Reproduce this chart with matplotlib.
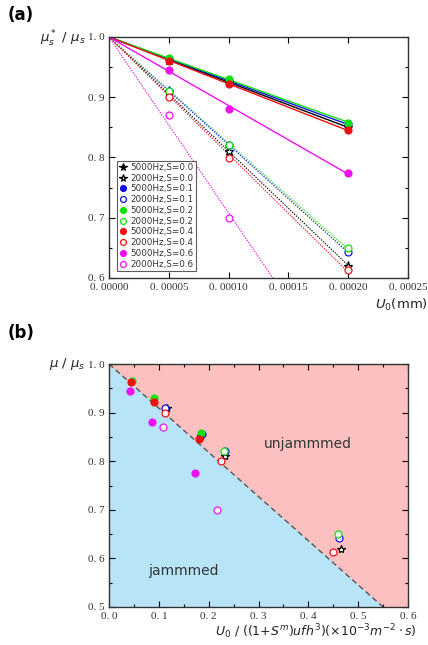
import numpy as np
import matplotlib
matplotlib.use("Agg")
import matplotlib.pyplot as plt
from matplotlib.ticker import MultipleLocator, FuncFormatter

# ---------------- data ----------------
U0 = [0.0, 0.00005, 0.00010, 0.00020]
labels = ["5000Hz,S=0.0", "2000Hz,S=0.0", "5000Hz,S=0.1", "2000Hz,S=0.1",
          "5000Hz,S=0.2", "2000Hz,S=0.2", "5000Hz,S=0.4", "2000Hz,S=0.4",
          "5000Hz,S=0.6", "2000Hz,S=0.6"]
colors = ["black", "black", "#1010e0", "#1010e0", "#10e010", "#10e010",
          "#ee1010", "#ee1010", "#ee10ee", "#ee10ee"]
markers = ["*", "*", "o", "o", "o", "o", "o", "o", "o", "o"]
filled = [True, False, True, False, True, False, True, False, True, False]

mu_a = [
    [1.0, 0.962, 0.925, 0.850],
    [1.0, 0.910, 0.810, 0.620],
    [1.0, 0.963, 0.927, 0.855],
    [1.0, 0.910, 0.820, 0.643],
    [1.0, 0.965, 0.930, 0.858],
    [1.0, 0.910, 0.820, 0.650],
    [1.0, 0.960, 0.922, 0.845],
    [1.0, 0.900, 0.800, 0.613],
    [1.0, 0.945, 0.880, 0.775],
    [1.0, 0.870, 0.700, None],
]

# panel (b) scaled abscissa values and ratios
xb = [
    [0.184],
    [0.116, 0.232, 0.465],
    [0.186],
    [0.112, 0.232, 0.462],
    [0.046, 0.091, 0.184],
    [0.230, 0.460],
    [0.045, 0.090, 0.180],
    [0.112, 0.225, 0.449],
    [0.043, 0.086, 0.173],
    [0.108, 0.216],
]
yb = [
    [0.852],
    [0.910, 0.810, 0.620],
    [0.855],
    [0.910, 0.822, 0.643],
    [0.965, 0.930, 0.858],
    [0.820, 0.650],
    [0.962, 0.922, 0.845],
    [0.900, 0.800, 0.613],
    [0.945, 0.880, 0.775],
    [0.870, 0.700],
]
boundary_x = [0.0, 0.55]
boundary_y = [1.0, 0.5]

# ---------------- figure ----------------
W, H = 428, 645
fig = plt.figure(figsize=(W / 100, H / 100), dpi=100)
serif = ["Liberation Serif", "DejaVu Serif"]

def ax_rect(l, t, r, b):
    return [l / W, 1 - b / H, (r - l) / W, (b - t) / H]

def style(ax):
    ax.tick_params(which="both", direction="in", top=True, right=True,
                   labelsize=8, width=0.8)
    ax.tick_params(which="major", length=4)
    ax.tick_params(which="minor", length=2.5)
    for lab in ax.get_xticklabels() + ax.get_yticklabels():
        lab.set_fontfamily(serif)
        lab.set_color("#333333")
    for s in ax.spines.values():
        s.set_linewidth(1.0)
        s.set_color("#333333")

def spaced(fmt):
    return FuncFormatter(lambda v, p: (fmt % v).replace(".", ". "))

# ---- panel (a) ----
axa = fig.add_axes(ax_rect(109, 37, 408, 278))
order = [0, 1, 2, 3, 4, 5, 6, 7, 8, 9]
xfit = np.array([0.0, 0.00020])
handles = []
for i in order:
    ys = mu_a[i]
    px = np.array([x for x, y in zip(U0, ys) if y is not None])
    py = np.array([y for y in ys if y is not None])
    k = np.sum(px * (1 - py)) / np.sum(px ** 2)
    ls = "-" if filled[i] else (0, (1.2, 1.2))
    lw = 1.0 if filled[i] else 0.8
    axa.plot(xfit, 1 - k * xfit, ls=ls, color=colors[i], lw=lw, zorder=2)
    ms = 6.5 if markers[i] == "*" else 5
    h, = axa.plot(px[1:], py[1:], ls="none", marker=markers[i], ms=ms,
                  mfc=colors[i] if filled[i] else "white",
                  mec=colors[i], mew=0.9, zorder=3, label=labels[i])
    handles.append(h)
axa.set_xlim(0, 0.00025)
axa.set_ylim(0.6, 1.0)
axa.xaxis.set_major_locator(MultipleLocator(0.00005))
axa.yaxis.set_major_locator(MultipleLocator(0.1))
axa.yaxis.set_minor_locator(MultipleLocator(0.05))
axa.xaxis.set_major_formatter(spaced("%.5f"))
axa.yaxis.set_major_formatter(spaced("%.1f"))
style(axa)
leg = axa.legend(handles=handles, loc="lower left", bbox_to_anchor=(0.027, 0.03),
                 fontsize=6.3, frameon=True, fancybox=False, handlelength=0.8,
                 handletextpad=0.5, borderpad=0.25, labelspacing=0.2,
                 borderaxespad=0.0, markerscale=0.85)
leg.get_frame().set_edgecolor("#333333")
leg.get_frame().set_linewidth(0.8)
for t in leg.get_texts():
    t.set_color("#333333")

fig.text(86 / W, 1 - 39 / H, r"$\mu_s^*$ / $\mu_s$", fontsize=9.5,
         color="#222222", ha="right", va="center")
fig.text(428 / W, 1 - 305 / H, r"$U_0$(mm)", fontsize=9.5, color="#222222",
         ha="right", va="center")
fig.text(8 / W, 1 - 15 / H, "(a)", fontsize=12, fontweight="bold",
         ha="left", va="center")

# ---- panel (b) ----
axb = fig.add_axes(ax_rect(109, 364, 408, 607))
axb.set_xlim(0, 0.6)
axb.set_ylim(0.5, 1.0)
axb.fill_between([0, 0.6], [1.0, 1.0], [0.5, 0.5], color="#fcc0c0",
                 zorder=0, lw=0)
axb.fill_between(boundary_x, boundary_y, [0.5, 0.5], color="#b8e4f8",
                 zorder=1, lw=0)
axb.plot(boundary_x, boundary_y, ls=(0, (4, 2.5)), color="#555555", lw=1.0,
         zorder=2)
for i in order:
    ms = 6 if markers[i] == "*" else 5
    axb.plot(xb[i], yb[i], ls="none", marker=markers[i], ms=ms,
             mfc=colors[i] if filled[i] else "white", mec=colors[i], mew=0.9,
             zorder=3)
axb.text(0.40, 0.835, "unjammmed", fontsize=10, color="#333333", ha="center",
         va="center")
axb.text(0.15, 0.575, "jammmed", fontsize=10, color="#333333", ha="center",
         va="center")
axb.xaxis.set_major_locator(MultipleLocator(0.1))
axb.xaxis.set_minor_locator(MultipleLocator(0.05))
axb.yaxis.set_major_locator(MultipleLocator(0.1))
axb.yaxis.set_minor_locator(MultipleLocator(0.05))
axb.xaxis.set_major_formatter(spaced("%.1f"))
axb.yaxis.set_major_formatter(spaced("%.1f"))
style(axb)

fig.text(86 / W, 1 - 364 / H, r"$\mu$ / $\mu_s$", fontsize=9.5,
         color="#222222", ha="right", va="center")
fig.text(417 / W, 1 - 632 / H,
         r"$U_0$ / ((1+$S^m$)$ufh^3$)($\times 10^{-3}m^{-2}\cdot s$)",
         fontsize=9, color="#222222", ha="right", va="center")
fig.text(8 / W, 1 - 333 / H, "(b)", fontsize=12, fontweight="bold",
         ha="left", va="center")

fig.savefig("out.png", dpi=100)
